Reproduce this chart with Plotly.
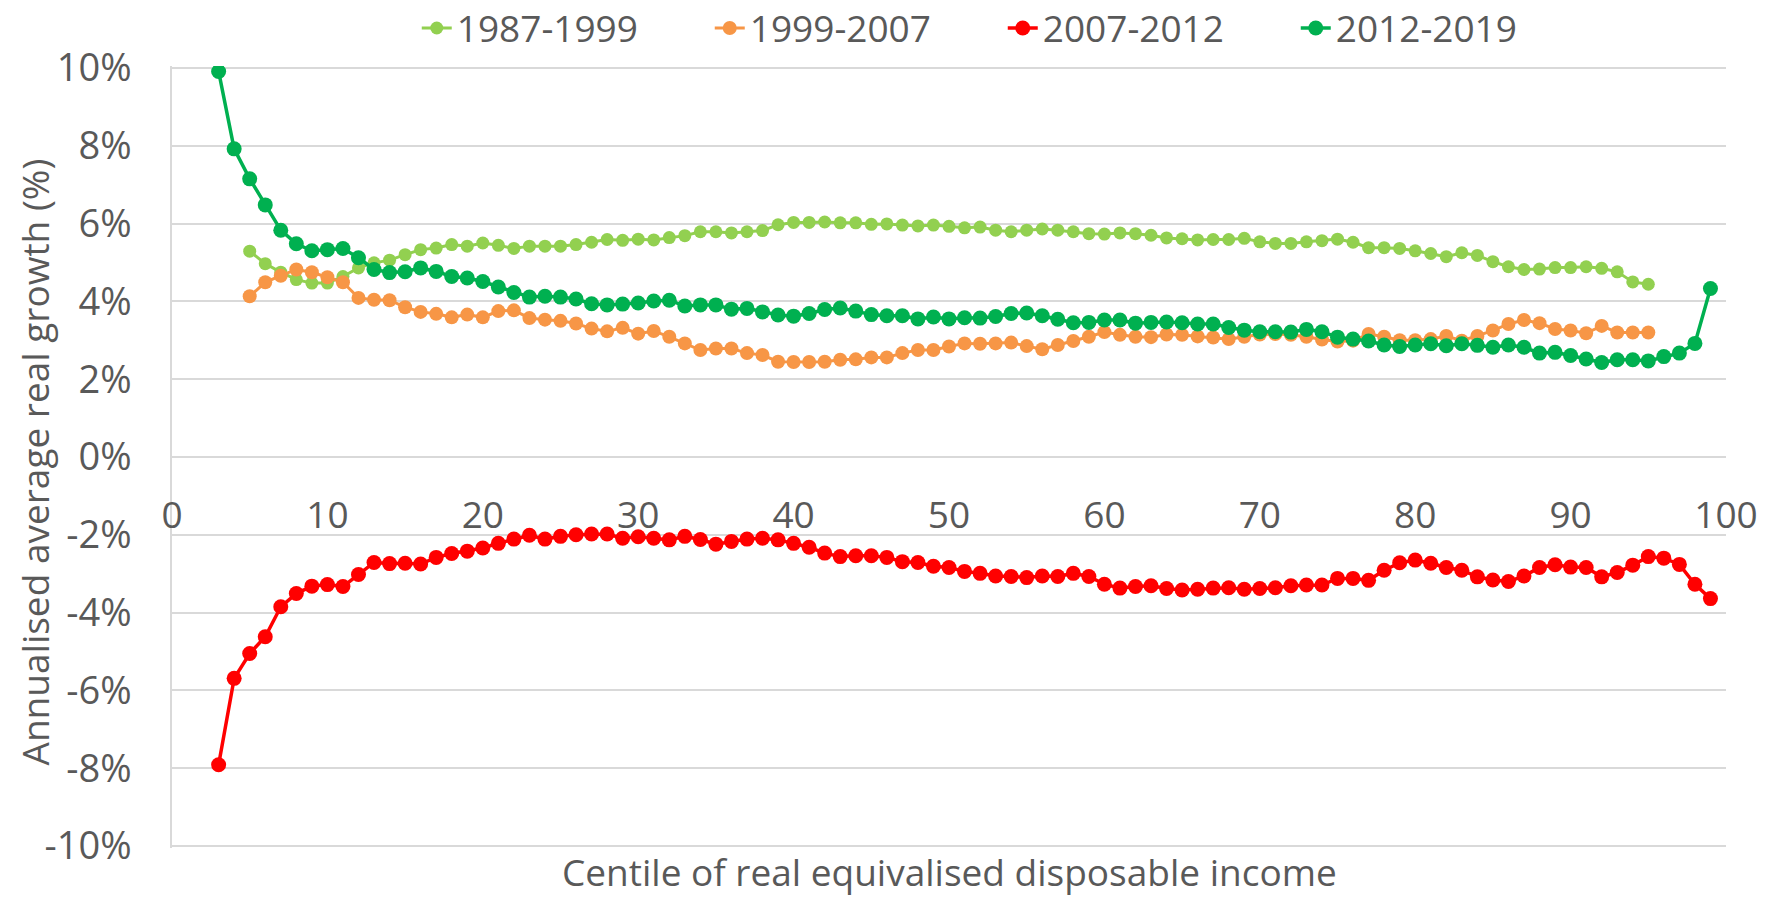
import plotly.graph_objects as go

# ---------------- data ----------------
centiles_full = list(range(3, 100))   # 3..99
centiles_mid = list(range(5, 96))     # 5..95

g_1987_1999 = [5.29, 4.97, 4.75, 4.56, 4.47, 4.47, 4.64, 4.86, 4.99, 5.06,
               5.20, 5.33, 5.37, 5.46, 5.42, 5.50, 5.44, 5.36, 5.42, 5.42,
               5.42, 5.46, 5.52, 5.59, 5.57, 5.60, 5.58, 5.64, 5.69, 5.79,
               5.79, 5.76, 5.79, 5.82, 5.97, 6.03, 6.03, 6.04, 6.02, 6.02,
               5.98, 5.99, 5.96, 5.94, 5.96, 5.93, 5.89, 5.91, 5.83, 5.79,
               5.83, 5.86, 5.83, 5.79, 5.74, 5.73, 5.76, 5.74, 5.70, 5.63,
               5.61, 5.58, 5.59, 5.59, 5.62, 5.53, 5.49, 5.49, 5.53, 5.56,
               5.60, 5.52, 5.38, 5.38, 5.36, 5.30, 5.23, 5.15, 5.25, 5.18,
               5.02, 4.89, 4.82, 4.83, 4.87, 4.87, 4.89, 4.85, 4.76, 4.50,
               4.44]

g_1999_2007 = [4.13, 4.49, 4.66, 4.82, 4.75, 4.62, 4.49, 4.09, 4.04, 4.03,
               3.85, 3.73, 3.68, 3.59, 3.66, 3.59, 3.75, 3.77, 3.57, 3.53,
               3.50, 3.43, 3.30, 3.23, 3.32, 3.17, 3.24, 3.09, 2.92, 2.75,
               2.79, 2.79, 2.67, 2.62, 2.45, 2.44, 2.44, 2.45, 2.50, 2.51,
               2.56, 2.56, 2.67, 2.75, 2.75, 2.84, 2.92, 2.91, 2.92, 2.94,
               2.85, 2.77, 2.88, 2.98, 3.09, 3.21, 3.14, 3.09, 3.08, 3.15,
               3.14, 3.10, 3.07, 3.03, 3.09, 3.15, 3.16, 3.14, 3.09, 3.02,
               2.97, 2.99, 3.16, 3.09, 3.00, 3.00, 3.03, 3.11, 2.99, 3.11,
               3.25, 3.42, 3.52, 3.44, 3.29, 3.25, 3.18, 3.37, 3.20, 3.20,
               3.20]

g_2007_2012 = [-7.91, -5.69, -5.05, -4.62, -3.85, -3.51, -3.32, -3.28, -3.33, -3.02,
               -2.71, -2.74, -2.73, -2.75, -2.58, -2.48, -2.42, -2.34, -2.22, -2.11,
               -2.01, -2.11, -2.04, -2.00, -1.98, -1.98, -2.09, -2.05, -2.09, -2.13,
               -2.04, -2.12, -2.24, -2.17, -2.11, -2.09, -2.13, -2.22, -2.32, -2.47,
               -2.56, -2.54, -2.54, -2.58, -2.69, -2.71, -2.81, -2.84, -2.94, -2.99,
               -3.06, -3.07, -3.10, -3.06, -3.07, -2.99, -3.07, -3.27, -3.37, -3.33,
               -3.31, -3.38, -3.42, -3.40, -3.37, -3.36, -3.40, -3.38, -3.36, -3.31,
               -3.29, -3.29, -3.12, -3.12, -3.17, -2.91, -2.72, -2.65, -2.73, -2.84,
               -2.91, -3.08, -3.16, -3.20, -3.06, -2.84, -2.77, -2.83, -2.84, -3.08,
               -2.97, -2.78, -2.56, -2.60, -2.76, -3.27, -3.64]

g_2012_2019 = [9.91, 7.92, 7.15, 6.48, 5.83, 5.48, 5.30, 5.33, 5.36, 5.12,
               4.82, 4.74, 4.76, 4.86, 4.77, 4.64, 4.60, 4.51, 4.37, 4.23,
               4.11, 4.13, 4.11, 4.06, 3.94, 3.91, 3.93, 3.96, 4.01, 4.03,
               3.88, 3.91, 3.91, 3.80, 3.82, 3.73, 3.65, 3.62, 3.69, 3.79,
               3.83, 3.75, 3.66, 3.63, 3.63, 3.55, 3.60, 3.55, 3.58, 3.57,
               3.61, 3.69, 3.70, 3.63, 3.54, 3.45, 3.46, 3.52, 3.52, 3.44,
               3.46, 3.47, 3.45, 3.42, 3.42, 3.33, 3.26, 3.22, 3.22, 3.21,
               3.28, 3.22, 3.08, 3.03, 2.98, 2.88, 2.84, 2.88, 2.91, 2.86,
               2.91, 2.87, 2.82, 2.88, 2.82, 2.67, 2.69, 2.61, 2.52, 2.43,
               2.50, 2.50, 2.47, 2.58, 2.67, 2.92, 4.33]

series_names = ["1987-1999", "1999-2007", "2007-2012", "2012-2019"]
series_colors = ["#92D050", "#F79646", "#FF0000", "#00B050"]

y_tickvals = [10, 8, 6, 4, 2, 0, -2, -4, -6, -8, -10]
y_ticktext = ["10%", "8%", "6%", "4%", "2%", "0%", "-2%", "-4%", "-6%", "-8%", "-10%"]
x_tickvals = [0, 10, 20, 30, 40, 50, 60, 70, 80, 90, 100]
x_ticktext = ["0", "10", "20", "30", "40", "50", "60", "70", "80", "90", "100"]

x_title = "Centile of real equivalised disposable income"
y_title = "Annualised average real growth (%)"

# ---------------- figure ----------------
FONT = "Open Sans"
TXT = "#595959"
GRID = "#D9D9D9"

fig = go.Figure()
xs = [centiles_mid, centiles_mid, centiles_full, centiles_full]
ys = [g_1987_1999, g_1999_2007, g_2007_2012, g_2012_2019]
msizes = [13, 14, 15, 15]
lwidths = [3, 3, 3.5, 3.5]
for name, col, x, y, ms, lw in zip(series_names, series_colors, xs, ys, msizes, lwidths):
    fig.add_trace(go.Scatter(
        x=x, y=y, name=name, mode="lines+markers",
        line=dict(color=col, width=lw),
        marker=dict(color=col, size=ms, symbol="circle"),
    ))

# plot area spans 10.05 .. -10.05 so that the 10% / -10% gridlines are drawn
fig.update_layout(
    width=1777, height=899,
    margin=dict(l=172, r=51, t=66, b=51, autoexpand=False),
    paper_bgcolor="white", plot_bgcolor="white",
    font=dict(family=FONT, color=TXT, size=36),
    showlegend=True,
    legend=dict(orientation="h", x=0.1575, xanchor="left", y=1.048, yanchor="middle",
                font=dict(size=37, color=TXT, family=FONT), itemwidth=30,
                entrywidth=248, entrywidthmode="pixels",
                bgcolor="rgba(0,0,0,0)"),
    xaxis=dict(range=[0, 100], tickvals=x_tickvals, ticktext=x_ticktext,
               showgrid=False, zeroline=False, showline=True, linecolor=GRID, linewidth=1.5,
               anchor="free", position=0.5, ticks="", ticklabelstandoff=26,
               tickfont=dict(size=37, color=TXT, family=FONT)),
    yaxis=dict(range=[-10.05, 10.05], tickvals=y_tickvals, ticktext=y_ticktext,
               showgrid=True, gridcolor=GRID, gridwidth=1.5, zeroline=False,
               showline=True, linecolor=GRID, linewidth=1.5, ticks="",
               ticklabelstandoff=31,
               tickfont=dict(size=38, color=TXT, family=FONT)),
    annotations=[
        dict(text=x_title, xref="paper", yref="paper", x=0.5, y=-0.0655,
             xanchor="center", yanchor="bottom", showarrow=False,
             font=dict(size=37, color=TXT, family=FONT)),
        dict(text=y_title, xref="paper", yref="paper", x=-0.0888, y=0.493,
             xanchor="center", yanchor="middle", textangle=-90, showarrow=False,
             font=dict(size=37, color=TXT, family=FONT)),
    ],
)

fig.write_html("out.html", config={"displayModeBar": False},
               post_script="document.body.style.margin='0';")
